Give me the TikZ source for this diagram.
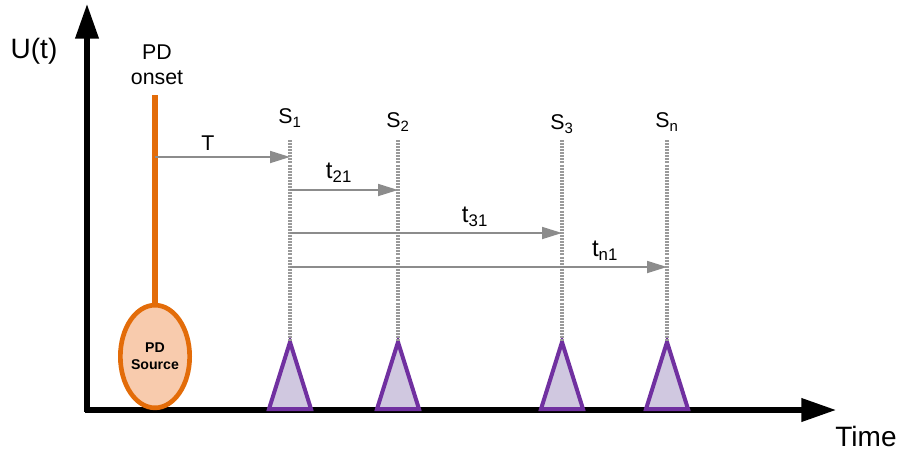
\documentclass[tikz,border=0pt]{standalone}
\usepackage{fontspec}
\setmainfont{Liberation Sans}
\usetikzlibrary{arrows.meta,shapes.geometric}
\definecolor{pdorange}{HTML}{E36C09}
\definecolor{pdfill}{HTML}{F8CBAD}
\definecolor{senspurple}{HTML}{7030A0}
\definecolor{sensfill}{HTML}{D0C8E0}
\definecolor{arrgray}{HTML}{8C8C8C}
\definecolor{dotgray}{HTML}{9A9A9A}
\tikzset{
  axis/.style={line width=3.8pt,-{Triangle[length=26pt,width=17pt]}},
  timearrow/.style={arrgray,line width=1.3pt,-{Triangle[length=15pt,width=9pt]}},
  sensline/.style={dotgray,line width=2.3pt,dash pattern=on 1.5pt off 0.8pt},
  sensor/.style={draw=senspurple,fill=sensfill,line width=3pt,line join=miter},
  lbl/.style={inner sep=0pt,font=\fontsize{16}{19}\selectfont},
  tlbl/.style={inner sep=0pt,font=\fontsize{18}{21}\selectfont},
  biglbl/.style={inner sep=0pt,font=\fontsize{21}{24}\selectfont},
}
\begin{document}
\begin{tikzpicture}[x=0.75pt,y=-0.75pt]
\useasboundingbox (0,0) rectangle (898,450);
% axes
\coordinate (o) at (85,410);
\coordinate (ytop) at (87,4);
\coordinate (xend) at (836,410);
\draw[axis] (87,412) -- (ytop);
\draw[axis] (o) -- (xend);
\node[biglbl] (ut) at (34,51) {U(t)};
\node[biglbl] (time) at (866,436) {Time};
% PD source
\node[lbl,align=center] (onset) at (157,65) {PD\\onset};
\node[ellipse,draw=pdorange,fill=pdfill,line width=3.5pt,minimum width=52pt,minimum height=77pt,inner sep=0pt,align=center,font=\bfseries\fontsize{10.6}{12.5}\selectfont] (src) at (155,356.5) {PD\\Source};
\coordinate (srctop) at (155,95);
\draw[pdorange,line width=3.8pt] (srctop) -- (src.north);
% sensors
\foreach \n/\x/\lab/\ly in {1/290/1/118,2/398/2/122,3/562/3/124,4/667/n/122}{
  \node[lbl] (s\n) at (\x,\ly) {S\textsubscript{\lab}};
  \coordinate (top\n) at (\x,140);
  \coordinate (apex\n) at (\x,342);
  \draw[sensor] (apex\n) -- (\x+21,409) -- (\x-21,409) -- cycle;
  \draw[sensline] (top\n) -- (apex\n);
}
% time arrows
\coordinate (tA) at (155,157);
\coordinate (tB) at (290,157);
\draw[timearrow] (tA) -- (tB);
\node[lbl] (T) at (208,143) {T};
\coordinate (a21) at (290,190); \coordinate (b21) at (398,190);
\draw[timearrow] (a21) -- (b21);
\node[tlbl] (t21) at (339,173) {t\textsubscript{21}};
\coordinate (a31) at (290,233); \coordinate (b31) at (562,233);
\draw[timearrow] (a31) -- (b31);
\node[tlbl] (t31) at (475,217) {t\textsubscript{31}};
\coordinate (an1) at (290,267); \coordinate (bn1) at (667,267);
\draw[timearrow] (an1) -- (bn1);
\node[tlbl] (tn1) at (605,251) {t\textsubscript{n1}};
\end{tikzpicture}
\end{document}
